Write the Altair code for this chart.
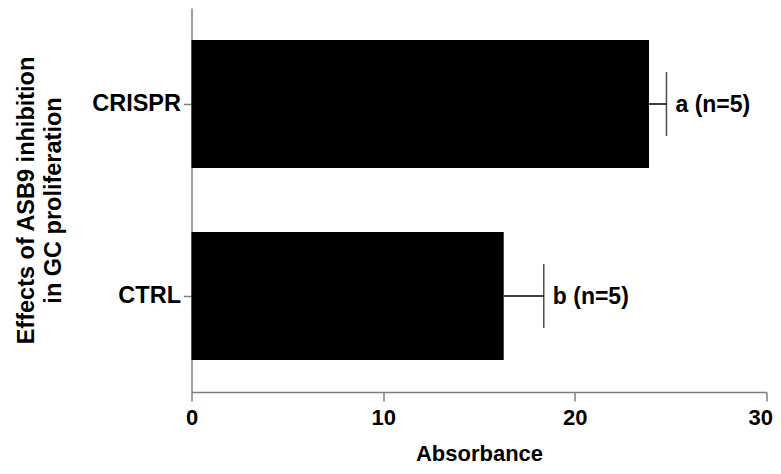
import altair as alt
import pandas as pd

groups = ["CRISPR", "CTRL"]
means = [23.87, 16.29]
sems = [0.91, 2.09]
labels = ["a (n=5)", "b (n=5)"]
x_ticks = [0, 10, 20, 30]

df = pd.DataFrame({"group": groups, "mean": means, "sem": sems, "label": labels})
df["upper"] = df["mean"] + df["sem"]

FONT = "Liberation Sans"

y_enc = alt.Y(
    "group:N",
    sort=groups,
    scale=alt.Scale(paddingInner=1 / 3, paddingOuter=1 / 6),
    axis=alt.Axis(
        title=["Effects of ASB9 inhibition", "in GC proliferation"],
        titleFont=FONT, titleFontSize=23.5, titleFontWeight="bold", titleColor="black",
        titleLineHeight=27, titlePadding=26,
        labelFont=FONT, labelFontSize=23.5, labelFontWeight="bold", labelColor="black",
        labelPadding=3, tickSize=8, tickColor="#7f7f7f", tickWidth=1.5,
        domainColor="#7f7f7f", domainWidth=1.5, grid=False,
    ),
)

x_scale = alt.Scale(domain=[0, 30], nice=False)
x_axis = alt.Axis(
    title="Absorbance", values=x_ticks,
    titleFont=FONT, titleFontSize=22, titleFontWeight="bold", titleColor="black",
    titlePadding=15,
    labelFont=FONT, labelFontSize=22, labelFontWeight="bold", labelColor="black",
    labelPadding=6, tickSize=9, tickColor="#7f7f7f", tickWidth=1.5,
    domainColor="#7f7f7f", domainWidth=1.5, grid=False,
    labelFlush=True, labelFlushOffset=6,
)

base = alt.Chart(df)

bars = base.mark_bar(color="black").encode(
    x=alt.X("mean:Q", scale=x_scale, axis=x_axis),
    y=y_enc,
)

err_line = base.mark_rule(color="black", strokeWidth=1.5).encode(
    x="mean:Q", x2="upper:Q", y=alt.Y("group:N", sort=groups)
)

err_cap = base.mark_tick(color="black", size=64, thickness=1.5).encode(
    x="upper:Q", y=alt.Y("group:N", sort=groups)
)

txt = base.mark_text(
    align="left", baseline="middle", dx=9, dy=1,
    font=FONT, fontSize=23, fontWeight="bold", color="black",
).encode(x="upper:Q", y=alt.Y("group:N", sort=groups), text="label:N")

chart = (
    alt.layer(bars, err_line, err_cap, txt)
    .properties(
        width=575, height=384,
        padding={"left": 183.5, "top": 0, "right": 6, "bottom": 74},
        autosize=alt.AutoSizeParams(type="none"),
    )
    .configure_view(stroke=None)
)

chart.save("out.html", embed_options={"renderer": "svg", "actions": False})
